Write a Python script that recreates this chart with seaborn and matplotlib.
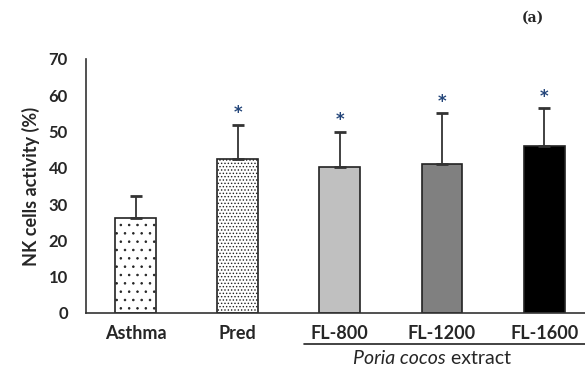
import matplotlib
matplotlib.use("Agg")
import matplotlib.pyplot as plt
import seaborn as sns
import pandas as pd
import numpy as np

categories = ["Asthma", "Pred", "FL-800", "FL-1200", "FL-1600"]
values = [26.2, 42.4, 40.2, 41.1, 45.9]
errors = [6.1, 9.5, 9.8, 14.1, 10.6]
significant = [False, True, True, True, True]
bar_colors = ["#ffffff", "#ffffff", "#c0c0c0", "#808080", "#000000"]
hatches = ["..", ".....", "", "", ""]
yticks = [0, 10, 20, 30, 40, 50, 60, 70]

sns.set_theme(style="white")
plt.rcParams["font.family"] = ["Lato", "DejaVu Sans"]
plt.rcParams["hatch.linewidth"] = 0.6

df = pd.DataFrame({"group": categories, "value": values})

fig = plt.figure(figsize=(5.85, 3.76), dpi=100)
ax = fig.add_axes([0.147, 0.1676, 0.853, 0.6755])

sns.barplot(data=df, x="group", y="value", hue="group", order=categories,
            palette=bar_colors, width=0.4, edgecolor="#222222", linewidth=1.2,
            legend=False, ax=ax, errorbar=None)

for patch, h in zip(ax.patches, hatches):
    if h:
        patch.set_hatch(h)

x = np.arange(len(categories))
ax.errorbar(x, values, yerr=[np.zeros(len(errors)), errors], fmt="none",
            ecolor="#333333", elinewidth=1.3, capsize=4, capthick=2)

for xi, v, e, s in zip(x, values, errors, significant):
    if s:
        ax.text(xi, v + e + 0.6, "*", ha="center", va="bottom",
                fontsize=12, fontweight="bold", color="#24467a",
                family=["DejaVu Sans"])

ax.set_xlim(-0.485, 4.40)
ax.set_ylim(0, 70)
ax.set_yticks(yticks)
ax.set_yticklabels([str(t) for t in yticks], fontsize=12, fontweight="bold")
ax.set_xticks(x)
ax.set_xticklabels(categories, fontsize=13, fontweight="bold")
ax.tick_params(axis="x", length=0, pad=9)
ax.set_xticks([0.5, 1.5, 2.5, 3.5], minor=True)
ax.tick_params(axis="x", which="minor", direction="in", length=3, width=1, color="#333333")
ax.tick_params(axis="y", direction="in", length=3, width=1, color="#333333", pad=13)
ax.set_xlabel("")
ax.set_ylabel("NK cells activity (%)", fontsize=13, fontweight="bold", labelpad=6)

for side in ["top", "right"]:
    ax.spines[side].set_visible(False)
for side in ["left", "bottom"]:
    ax.spines[side].set_color("#333333")
    ax.spines[side].set_linewidth(1.2)

# group bracket line and label
fig.add_artist(plt.Line2D([304 / 585, 1.0], [1 - 344 / 376, 1 - 344 / 376],
                          color="#222222", linewidth=1.2))
fig.text(446 / 585, 1 - 359 / 376, "Poria cocos", ha="right", va="center",
         fontsize=14, style="italic")
fig.text(446 / 585, 1 - 359 / 376, " extract", ha="left", va="center", fontsize=14)
fig.text(533 / 585, 1 - 18 / 376, "(a)", ha="center", va="center",
         fontsize=10, fontweight="bold", family=["DejaVu Serif"])

fig.savefig("out.png", dpi=100, facecolor="white")
